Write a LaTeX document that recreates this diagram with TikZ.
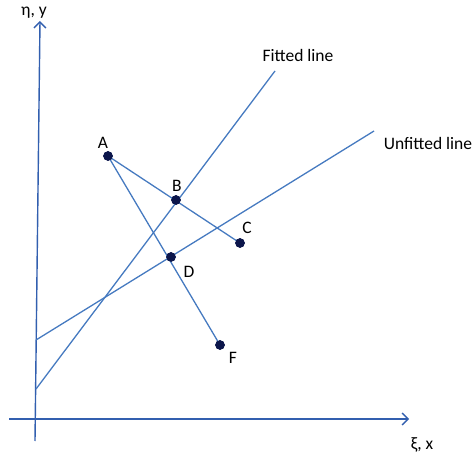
\documentclass[tikz,border=0pt]{standalone}
\usepackage{fontspec}
\setmainfont{Carlito}
\usetikzlibrary{arrows.meta}
\definecolor{linec}{RGB}{70,122,192}
\definecolor{axisc}{RGB}{50,95,175}
\definecolor{dotc}{RGB}{12,22,75}
\begin{document}
\begin{tikzpicture}[x=1pt,y=-1pt,
  lab/.style={font=\fontsize{17.5}{19}\selectfont, inner sep=0pt},
  pt/.style={circle, fill=dotc, draw=dotc, inner sep=0pt, minimum size=9pt},
  ln/.style={draw=linec, line width=1.3pt},
  ax/.style={draw=axisc, line width=1.4pt, -{Straight Barb[length=6pt,width=12pt,line width=1.4pt]}}]
\useasboundingbox (0,0) rectangle (474,457);
% axes
\coordinate (y0) at (35,441);
\coordinate (y1) at (40,21);
\coordinate (x0) at (9,419);
\coordinate (x1) at (409,419);
\draw[ax] (y0) -- (y1);
\draw[ax] (x0) -- (x1);
\node[lab] (ylab) at (34,13) {η, y};
\node[lab] (xlab) at (422,445) {ξ, x};
% points
\node[pt] (A) at (108,156) {};
\node[pt] (B) at (176,200) {};
\node[pt] (C) at (240,243) {};
\node[pt] (D) at (171,257) {};
\node[pt] (F) at (220,345) {};
% fitted / unfitted lines
\coordinate (f0) at (36,389);
\coordinate (f1) at (275,71);
\coordinate (u0) at (36,340);
\coordinate (u1) at (374,131);
\draw[ln] (f0) -- (f1);
\draw[ln] (u0) -- (u1);
\draw[ln] (A.center) -- (C.center);
\draw[ln] (A.center) -- (F.center);
\node[pt] at (A) {};
\node[pt] at (B) {};
\node[pt] at (C) {};
\node[pt] at (D) {};
\node[pt] at (F) {};
% labels
\node[lab] (la) at (103,143) {A};
\node[lab] (lb) at (177,186) {B};
\node[lab] (lc) at (247,228) {C};
\node[lab] (ld) at (189,272) {D};
\node[lab] (lf) at (233,358) {F};
\node[lab] (fl) at (298,55) {Fitted line};
\node[lab] (ul) at (428,143) {Unfitted line};
\end{tikzpicture}
\end{document}
